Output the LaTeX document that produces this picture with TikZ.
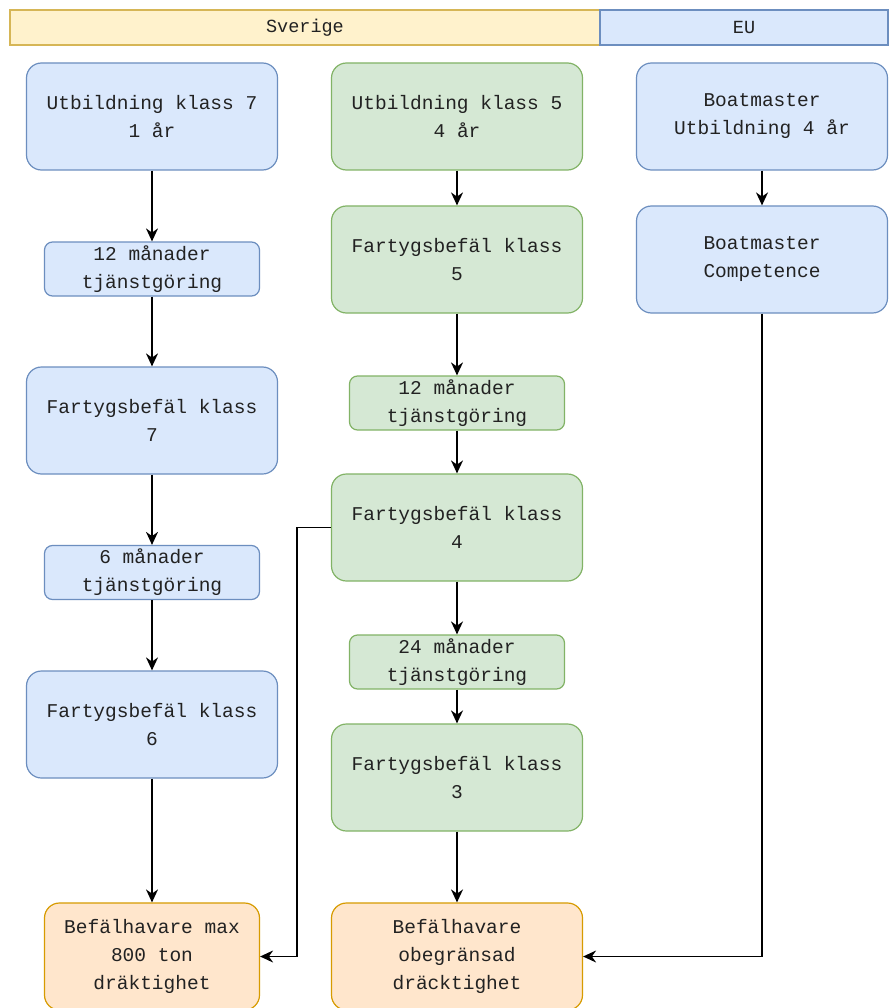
\documentclass[tikz,border=0pt]{standalone}
\usepackage{fontspec}
\newfontfamily\monofont{Liberation Mono}
\usetikzlibrary{arrows.meta}
\definecolor{bluefill}{HTML}{DAE8FC}
\definecolor{bluedraw}{HTML}{6C8EBF}
\definecolor{greenfill}{HTML}{D5E8D4}
\definecolor{greendraw}{HTML}{82B366}
\definecolor{orangefill}{HTML}{FFE6CC}
\definecolor{orangedraw}{HTML}{D79B00}
\definecolor{yellowfill}{HTML}{FFF2CC}
\definecolor{yellowdraw}{HTML}{D6B656}
\definecolor{txt}{HTML}{222222}
\tikzset{
  base/.style={draw, line width=1.2pt, align=center, inner sep=0pt, text=txt,
    font=\monofont\fontsize{19.5}{28}\selectfont},
  big/.style={base, rounded corners=15pt, minimum width=251pt, minimum height=107pt},
  small/.style={base, rounded corners=8pt, minimum width=215pt, minimum height=54pt},
  bluebox/.style={fill=bluefill, draw=bluedraw},
  greenbox/.style={fill=greenfill, draw=greendraw},
  orangebox/.style={fill=orangefill, draw=orangedraw},
  header/.style={draw, line width=1.2pt, inner sep=0pt, minimum height=35pt, text=txt,
    font=\monofont\fontsize{18.5}{22}\selectfont},
  conn/.style={draw=black, line width=1.5pt, -{Stealth[length=13pt,width=12pt]}},
}
\begin{document}
\begin{tikzpicture}[x=1pt,y=-1pt]
\path[use as bounding box, clip] (0,0) rectangle (894,1008);
\fill[white] (0,0) rectangle (894,1008);
% headers
\node[header, fill=yellowfill, draw=yellowdraw, minimum width=590pt] (sv) at (305,27.5) {Sverige};
\node[header, fill=bluefill, draw=bluedraw, minimum width=288pt] (eu) at (744,27.5) {EU};
% left column
\node[big, bluebox] (u7) at (152,116.5) {Utbildning klass 7\\1 år};
\node[small, bluebox] (m12a) at (152,269) {12 månader\\tjänstgöring};
\node[big, bluebox] (fb7) at (152,420.5) {Fartygsbefäl klass\\7};
\node[small, bluebox] (m6) at (152,572.5) {6 månader\\tjänstgöring};
\node[big, bluebox] (fb6) at (152,724.5) {Fartygsbefäl klass\\6};
\node[small, orangebox, rounded corners=15pt, minimum height=107pt] (b1) at (152,956.5) {Befälhavare max\\800 ton\\dräktighet};
% middle column
\node[big, greenbox] (u5) at (457,116.5) {Utbildning klass 5\\4 år};
\node[big, greenbox] (fb5) at (457,259.5) {Fartygsbefäl klass\\5};
\node[small, greenbox] (m12b) at (457,403) {12 månader\\tjänstgöring};
\node[big, greenbox] (fb4) at (457,527.5) {Fartygsbefäl klass\\4};
\node[small, greenbox] (m24) at (457,662) {24 månader\\tjänstgöring};
\node[big, greenbox] (fb3) at (457,777.5) {Fartygsbefäl klass\\3};
\node[big, orangebox] (b2) at (457,956.5) {Befälhavare\\obegränsad\\dräcktighet};
% right column
\node[big, bluebox] (bm1) at (762,116.5) {Boatmaster\\Utbildning 4 år};
\node[big, bluebox] (bm2) at (762,259.5) {Boatmaster\\Competence};
% connectors
\draw[conn] (u7) -- (m12a);
\draw[conn] (m12a) -- (fb7);
\draw[conn] (fb7) -- (m6);
\draw[conn] (m6) -- (fb6);
\draw[conn] (fb6) -- (b1);
\draw[conn] (u5) -- (fb5);
\draw[conn] (fb5) -- (m12b);
\draw[conn] (m12b) -- (fb4);
\draw[conn] (fb4) -- (m24);
\draw[conn] (m24) -- (fb3);
\draw[conn] (fb3) -- (b2);
\draw[conn] (bm1) -- (bm2);
\draw[conn] (fb4.west) -- ++(-34,0) |- (b1.east);
\draw[conn] (bm2.south) |- (b2.east);
\end{tikzpicture}
\end{document}
